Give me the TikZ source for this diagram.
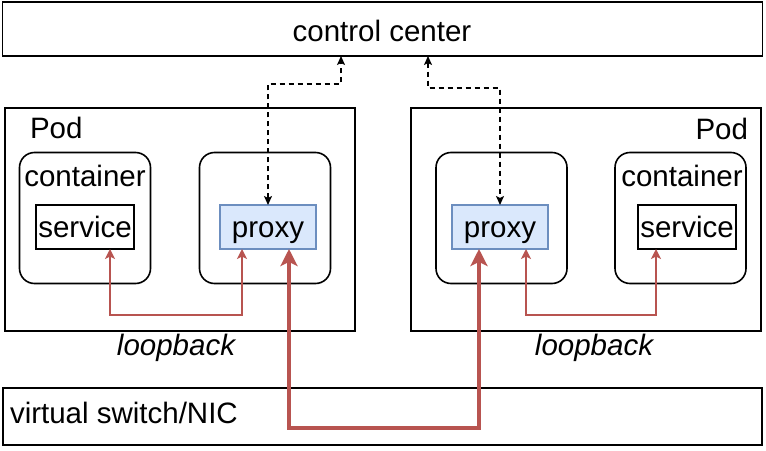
\documentclass[tikz,border=0pt]{standalone}
\usepackage{fontspec}
\setmainfont{Liberation Sans}
\usetikzlibrary{arrows.meta}
\definecolor{redline}{HTML}{B85450}
\definecolor{proxyfill}{HTML}{DAE8FC}
\definecolor{proxydraw}{HTML}{6C8EBF}
\begin{document}
\begin{tikzpicture}[x=1pt,y=-1pt,
  every node/.style={font=\fontsize{29.5}{35}\selectfont, inner sep=0pt, outer sep=0pt},
  box/.style={draw=black, line width=1.6pt},
  cont/.style={box, rounded corners=15pt, minimum width=131pt, minimum height=131pt},
  podbox/.style={box, minimum width=350pt, minimum height=223pt},
  svcbox/.style={box, minimum width=98pt, minimum height=44pt},
  proxybox/.style={draw=proxydraw, fill=proxyfill, line width=1.5pt, minimum width=96pt, minimum height=44pt},
  lbl/.style={anchor=base},
  dashedarrow/.style={line width=1.5pt, dash pattern=on 5pt off 4pt, {Stealth[length=9pt,width=8pt,inset=2pt]}-{Stealth[length=9pt,width=8pt,inset=2pt]}},
  thinred/.style={draw=redline, line width=1.5pt, {Stealth[length=10pt,width=10pt,inset=2.5pt]}-{Stealth[length=10pt,width=10pt,inset=2.5pt]}},
  thickred/.style={draw=redline, line width=3.5pt, {Stealth[length=17pt,width=17pt,inset=4pt]}-{Stealth[length=17pt,width=17pt,inset=4pt]}}
]
\useasboundingbox (0,0) rectangle (766,450);

% control center
\node[box, minimum width=760pt, minimum height=54pt] (control) at (382.5,29) {};
\node[lbl] (controltxt) at (382,41.5) {control center};

% pods
\node[podbox] (pod1) at (180,219.5) {};
\node[podbox] (pod2) at (586,219.5) {};
\node[anchor=base west] (pod1txt) at (30,138) {Pod};
\node[anchor=base east] (pod2txt) at (748,139) {Pod};

% containers
\node[cont] (cont1) at (85,218) {};
\node[cont] (cont2) at (265,218) {};
\node[cont] (cont3) at (501.5,218) {};
\node[cont] (cont4) at (680.5,218) {};
\node[lbl] (cont1txt) at (85,186.5) {container};
\node[lbl] (cont4txt) at (682,186.5) {container};

% services and proxies
\node[svcbox] (svc1) at (85,227) {};
\node[lbl] (svc1txt) at (85,237) {service};
\node[svcbox] (svc2) at (687,227) {};
\node[lbl] (svc2txt) at (687,237) {service};
\node[proxybox] (proxy1) at (268,227) {};
\node[lbl] (proxy1txt) at (268,237) {proxy};
\node[proxybox] (proxy2) at (500,227) {};
\node[lbl] (proxy2txt) at (500,237) {proxy};

% loopback labels
\node[lbl, font=\fontsize{29.5}{35}\selectfont\itshape] (lb1txt) at (176,355) {loopback};
\node[lbl, font=\fontsize{29.5}{35}\selectfont\itshape] (lb2txt) at (594,355) {loopback};

% virtual switch
\node[box, minimum width=759pt, minimum height=57pt] (vs) at (382.5,416.5) {};
\node[anchor=base west] (vstxt) at (10,423) {virtual switch/NIC};

% helper coordinates
\coordinate (d1) at (341,84);
\coordinate (d2) at (428,88);
\coordinate (lb1) at (0,315);
\coordinate (lbw) at (0,428);
\coordinate (s1) at ([xshift=25pt]svc1.south);
\coordinate (p1a) at ([xshift=-26pt]proxy1.south);
\coordinate (p2a) at ([xshift=26pt]proxy2.south);
\coordinate (s2) at ([xshift=-31pt]svc2.south);
\coordinate (p1b) at ([xshift=21pt]proxy1.south);
\coordinate (p2b) at ([xshift=-21pt]proxy2.south);

% dashed control links
\draw[dashedarrow] (proxy1.north) |- (d1) -- (d1 |- control.south);
\draw[dashedarrow] (d2 |- control.south) -- (d2) -| (proxy2.north);

% loopback links
\draw[thinred] (s1) -- (s1 |- lb1) -- (p1a |- lb1) -- (p1a);
\draw[thinred] (p2a) -- (p2a |- lb1) -- (s2 |- lb1) -- (s2);

% switch link
\draw[thickred] (p1b) -- (p1b |- lbw) -- (p2b |- lbw) -- (p2b);
\end{tikzpicture}
\end{document}
